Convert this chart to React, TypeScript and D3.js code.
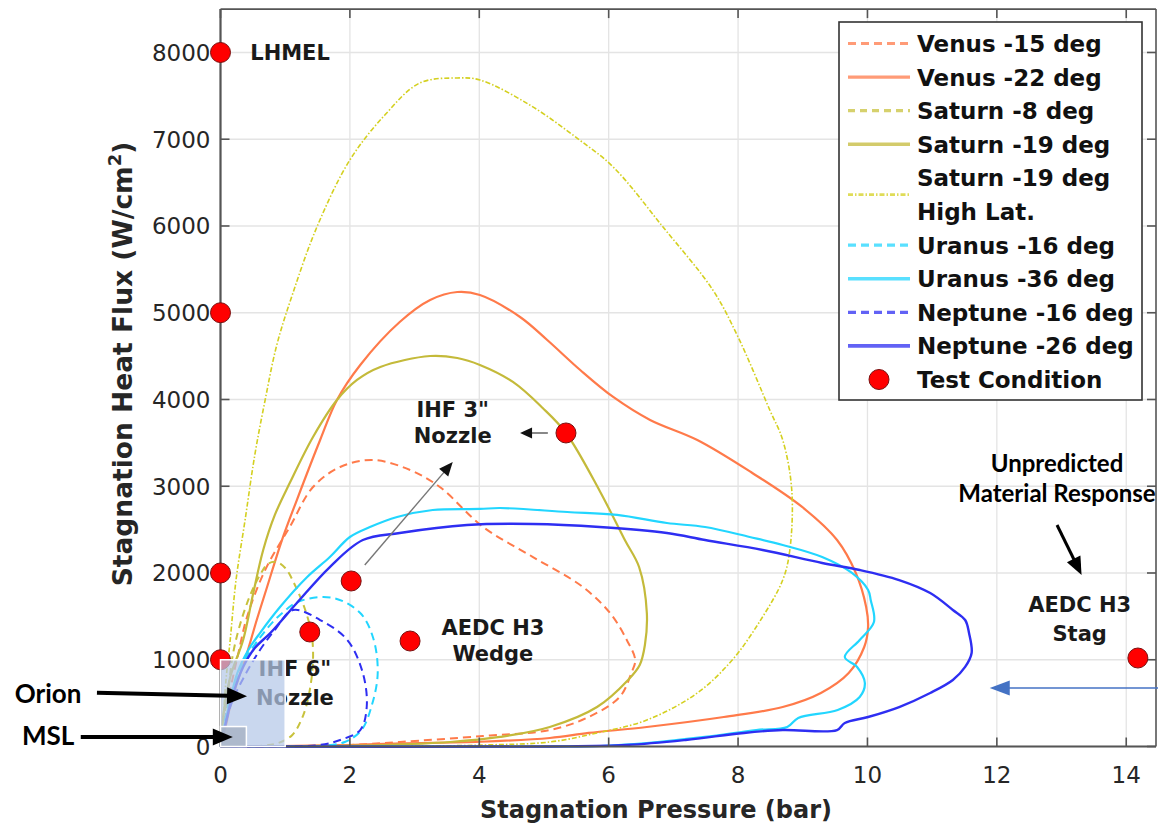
import React from 'react';
import * as d3 from 'd3';

type Pt = [number, number];

const W = 1158;
const H = 826;
const X_MAX = 14.46;
const Y_MAX = 8500;
const xTicks = [0, 2, 4, 6, 8, 10, 12, 14];
const yTicks = [0, 1000, 2000, 3000, 4000, 5000, 6000, 7000, 8000];

const venus15: Pt[] = [[0,0],[0.04,190],[0.15,651],[0.27,1055],[0.41,1493],[0.69,2035],[1.07,2530],[1.43,2991],[1.85,3222],[2.36,3302],[2.93,3187],[3.39,2991],[4.06,2530],[4.83,2184],[5.6,1839],[6.02,1539],[6.28,1228],[6.41,997],[6.35,847],[6.17,571],[5.69,340],[5.09,190],[4.06,121],[2.77,52],[2.0,17],[1.23,6],[0,0]];
const venus22: Pt[] = [[0,0],[0.085,248],[0.147,455],[0.27,767],[0.41,1078],[0.56,1458],[0.72,1839],[0.95,2380],[1.18,2841],[1.54,3533],[1.8,3994],[2.16,4398],[2.77,4893],[3.24,5147],[3.66,5239],[4.01,5205],[4.63,4951],[5.05,4686],[5.56,4340],[6.07,4029],[6.64,3764],[7.37,3533],[8.22,3153],[8.99,2761],[9.53,2380],[9.82,2000],[9.98,1608],[10.01,1378],[9.95,1147],[9.71,847],[9.28,617],[8.69,455],[7.78,340],[6.59,225],[5.69,156],[5.09,98],[4.01,55],[2.77,35],[2.0,17],[0.92,6],[0,0]];
const saturn8: Pt[] = [[0,0],[0.05,305],[0.12,651],[0.19,1055],[0.3,1400],[0.46,1746],[0.61,1977],[0.73,2104],[0.86,2127],[1.0,2058],[1.15,1862],[1.31,1574],[1.41,1285],[1.43,997],[1.38,651],[1.28,363],[1.11,133],[0.89,40],[0.61,6],[0,0]];
const saturn19: Pt[] = [[0,0],[0.04,340],[0.15,801],[0.35,1228],[0.5,1746],[0.66,2265],[0.84,2669],[1.07,3037],[1.43,3568],[1.8,3994],[2.11,4225],[2.47,4375],[3.24,4501],[3.66,4478],[4.01,4398],[4.52,4202],[4.98,3902],[5.34,3614],[5.87,2934],[6.25,2380],[6.47,2069],[6.59,1539],[6.56,1170],[6.48,940],[6.3,767],[5.82,455],[5.09,225],[4.32,110],[3.55,52],[2.47,17],[1.23,6],[0,0]];
const saturn19HL: Pt[] = [[0,0],[0.04,305],[0.085,767],[0.15,1228],[0.24,1919],[0.38,2611],[0.53,3360],[0.69,3994],[0.87,4628],[1.12,5228],[1.49,5988],[2.0,6761],[2.54,7279],[3.08,7648],[3.66,7706],[4.01,7683],[4.78,7395],[5.55,6991],[6.07,6680],[6.84,5988],[7.61,5262],[8.0,4720],[8.49,3879],[8.69,3533],[8.83,2957],[8.8,2265],[8.69,1919],[8.32,1424],[7.91,997],[7.37,617],[6.59,305],[5.82,156],[5.09,52],[4.06,17],[2.77,2],[1.23,0],[0,0]];
const uranus16: Pt[] = [[0,0],[0.07,305],[0.18,651],[0.38,997],[0.64,1285],[0.92,1516],[1.23,1677],[1.74,1712],[2.16,1539],[2.36,1251],[2.43,847],[2.34,478],[2.18,190],[1.92,52],[1.53,6],[0,0]];
const uranus36: Pt[] = [[0,0],[0.04,156],[0.15,536],[0.26,847],[0.43,1112],[0.61,1308],[0.92,1608],[1.34,1954],[1.69,2184],[2.0,2415],[2.31,2530],[2.73,2646],[3.28,2726],[4.01,2738],[4.32,2749],[5.36,2703],[6.13,2669],[6.9,2576],[7.49,2530],[8.18,2415],[8.69,2323],[9.3,2184],[9.76,2000],[10.01,1804],[10.05,1689],[10.1,1435],[9.88,1228],[9.65,1032],[9.84,917],[9.96,732],[9.88,571],[9.54,421],[8.93,329],[8.76,225],[8.28,190],[7.49,110],[6.59,40],[5.87,6],[5.09,0],[0,0]];
const neptune16: Pt[] = [[0,0],[0.07,248],[0.19,536],[0.38,824],[0.61,1112],[0.84,1343],[1.12,1573],[1.54,1458],[1.96,1228],[2.2,847],[2.26,455],[2.16,190],[1.85,75],[1.53,17],[0,0]];
const neptune26: Pt[] = [[0,0],[0.04,133],[0.1,329],[0.19,594],[0.35,917],[0.53,1135],[0.77,1308],[1.18,1654],[1.69,2069],[2.2,2380],[2.77,2461],[3.81,2553],[4.83,2565],[5.86,2530],[6.9,2461],[7.49,2380],[8.38,2265],[9.3,2115],[9.88,2035],[10.49,1919],[10.97,1769],[11.32,1574],[11.51,1458],[11.57,1308],[11.61,1078],[11.51,917],[11.32,767],[10.97,617],[10.49,455],[10.01,340],[9.65,271],[9.53,190],[8.69,190],[8.09,156],[7.19,75],[6.28,17],[5.09,0],[0,0]];

const testX = [0, 0, 0, 0, 5.34, 2.02, 1.38, 2.93, 14.18];
const testY = [8000, 5000, 2000, 1000, 3614, 1908, 1320, 1216, 1020];

const seriesNames = ['Venus -15 deg', 'Venus -22 deg', 'Saturn -8 deg', 'Saturn -19 deg', 'Saturn -19 deg|High Lat.', 'Uranus -16 deg', 'Uranus -36 deg', 'Neptune -16 deg', 'Neptune -26 deg'];
const seriesData = [venus15, venus22, saturn8, saturn19, saturn19HL, uranus16, uranus36, neptune16, neptune26];
const seriesColors = ['#FF7A4A', '#FF7A4A', '#C8C23C', '#C4BA3A', '#D4D020', '#22D6FF', '#22D6FF', '#2E2EF2', '#2E2EF2'];
const seriesDash = ['8,5', '', '7,5', '', '5,2,1.5,2', '8,5', '', '8,5', ''];
const seriesWidth = [2, 2.2, 2, 2.2, 1.6, 2, 2.2, 2, 2.4];

const x = d3.scaleLinear().domain([0, X_MAX]).range([220.5, 1156]);
const y = d3.scaleLinear().domain([0, Y_MAX]).range([746.5, 9.1]);

const MATLAB_FONT = '"DejaVu Sans", sans-serif';
const PPT_FONT = 'Lato, "Open Sans", sans-serif';

function Arrow({ x1, y1, x2, y2, color, width, headLen, headW, lineColor }: any) {
  const dx = x2 - x1, dy = y2 - y1;
  const L = Math.sqrt(dx * dx + dy * dy);
  const ux = dx / L, uy = dy / L;
  const bx = x2 - ux * headLen, by = y2 - uy * headLen;
  const px = -uy * headW / 2, py = ux * headW / 2;
  return (
    <g>
      <line x1={x1} y1={y1} x2={bx + ux * 1} y2={by + uy * 1} stroke={lineColor || color} strokeWidth={width} />
      <polygon points={`${x2},${y2} ${bx + px},${by + py} ${bx - px},${by - py}`} fill={color} />
    </g>
  );
}

export default function App() {
  const line = d3.line<Pt>().x(d => x(d[0])).y(d => y(d[1])).curve(d3.curveCatmullRom.alpha(0.5));
  const x0 = x(0), x1 = x(X_MAX), y0 = y(0), y1 = y(Y_MAX);

  const legX = 839, legY = 22, legW = 303, legH = 378;
  const rowH = 33.6;
  let row = 0;
  const legendItems: any[] = [];
  seriesNames.forEach((n, i) => {
    const parts = n.split('|');
    const cy = legY + 21.5 + rowH * row + (parts.length - 1) * rowH / 2;
    legendItems.push({ i, parts, cy, top: legY + 21.5 + rowH * row });
    row += parts.length;
  });
  const testRowY = legY + 21.5 + rowH * row;

  return (
    <svg width={W} height={H} style={{ position: 'absolute', left: 0, top: 0, background: '#fff' }}>
      <rect x={0} y={0} width={W} height={H} fill="#fff" />
      {xTicks.map(t => (
        <line key={'gx' + t} x1={x(t)} x2={x(t)} y1={y0} y2={y1} stroke="#e4e4e4" strokeWidth={1.3} />
      ))}
      {yTicks.map(t => (
        <line key={'gy' + t} x1={x0} x2={x1} y1={y(t)} y2={y(t)} stroke="#e4e4e4" strokeWidth={1.3} />
      ))}
      {seriesData.map((d, i) => (
        <path key={'s' + i} d={line(d) || ''} fill="none" stroke={seriesColors[i]} strokeWidth={seriesWidth[i]}
          strokeDasharray={seriesDash[i] || undefined} strokeLinejoin="round" />
      ))}
      <line x1={x0} x2={x0} y1={y0} y2={y1} stroke="#555" strokeWidth={2.2} />
      <line x1={x0} x2={x1} y1={y0} y2={y0} stroke="#555" strokeWidth={2.2} />
      <line x1={x0} x2={x1} y1={y1} y2={y1} stroke="#555" strokeWidth={1.6} />
      <line x1={x1} x2={x1} y1={y0} y2={y1} stroke="#555" strokeWidth={1.6} />
      {xTicks.map(t => (
        <g key={'tx' + t}>
          <line x1={x(t)} x2={x(t)} y1={y0} y2={y0 - 9} stroke="#555" strokeWidth={1.6} />
          <line x1={x(t)} x2={x(t)} y1={y1} y2={y1 + 9} stroke="#555" strokeWidth={1.6} />
          <text x={x(t)} y={y0 + 36.5} textAnchor="middle" fontFamily={MATLAB_FONT} fontSize={23} fill="#262626">{t}</text>
        </g>
      ))}
      {yTicks.map(t => (
        <g key={'ty' + t}>
          <line x1={x0} x2={x0 + 9} y1={y(t)} y2={y(t)} stroke="#555" strokeWidth={1.6} />
          <line x1={x1} x2={x1 - 9} y1={y(t)} y2={y(t)} stroke="#555" strokeWidth={1.6} />
          <text x={x0 - 10} y={y(t) + 8.3} textAnchor="end" fontFamily={MATLAB_FONT} fontSize={23} fill="#262626">{t}</text>
        </g>
      ))}
      <text x={656} y={818} textAnchor="middle" fontFamily={MATLAB_FONT} fontWeight="bold" fontSize={24} fill="#262626">Stagnation Pressure (bar)</text>
      <text transform="translate(132,364) rotate(-90)" textAnchor="middle" fontFamily={MATLAB_FONT} fontWeight="bold" fontSize={26.5} fill="#262626">
        Stagnation Heat Flux (W/cm<tspan dy={-11} fontSize={18}>2</tspan><tspan dy={11}>)</tspan>
      </text>
      <g fontFamily={MATLAB_FONT} fontWeight="bold" fontSize={21} fill="#1a1a1a">
        <text x={x(0.46)} y={y(7914)}>LHMEL</text>
        <text x={x(3.59)} y={y(3798)} textAnchor="middle">IHF 3"</text>
        <text x={x(3.59)} y={y(3499)} textAnchor="middle">Nozzle</text>
        <text x={x(4.21)} y={y(1285)} textAnchor="middle">AEDC H3</text>
        <text x={x(4.21)} y={y(986)} textAnchor="middle">Wedge</text>
        <text x={x(1.15)} y={y(813)} textAnchor="middle">IHF 6"</text>
        <text x={x(1.15)} y={y(478)} textAnchor="middle">Nozzle</text>
        <text x={x(13.28)} y={y(1550)} textAnchor="middle">AEDC H3</text>
        <text x={x(13.28)} y={y(1216)} textAnchor="middle">Stag</text>
      </g>
      <Arrow x1={x(5.06)} y1={y(3614)} x2={x(4.63)} y2={y(3614)} color="#111" lineColor="#888" width={2} headLen={12} headW={11} />
      <Arrow x1={x(2.23)} y1={y(2092)} x2={x(3.59)} y2={y(3280)} color="#111" lineColor="#777" width={1.4} headLen={14} headW={12} />
      {testX.map((tx, i) => (
        <circle key={'tc' + i} cx={x(tx)} cy={y(testY[i])} r={10} fill="#FF0000" stroke="#7a1010" strokeWidth={1} />
      ))}
      <rect x={x(0)} y={y(1000)} width={x(1.0) - x(0)} height={y(0) - y(1000)} fill="#b4c7e7" fillOpacity={0.72} stroke="#fff" strokeWidth={1.5} />
      <rect x={x(0)} y={y(230)} width={x(0.4) - x(0)} height={y(0) - y(230)} fill="#aab6c8" fillOpacity={0.9} stroke="#fff" strokeWidth={1.5} />
      <rect x={legX} y={legY} width={legW} height={legH} fill="#fff" stroke="#333" strokeWidth={1.6} />
      {legendItems.map(it => (
        <g key={'lg' + it.i}>
          <line x1={848} x2={910} y1={it.cy} y2={it.cy} stroke={seriesColors[it.i]} strokeWidth={seriesWidth[it.i] + 1.2}
            strokeOpacity={0.75} strokeDasharray={seriesDash[it.i] || undefined} />
          {it.parts.map((p: string, k: number) => (
            <text key={k} x={917} y={it.top + rowH * k + 8.4} fontFamily={MATLAB_FONT} fontWeight="bold" fontSize={23} fill="#111">{p}</text>
          ))}
        </g>
      ))}
      <circle cx={879} cy={testRowY} r={10} fill="#FF0000" stroke="#7a1010" strokeWidth={1} />
      <text x={917} y={testRowY + 8.4} fontFamily={MATLAB_FONT} fontWeight="bold" fontSize={23} fill="#111">Test Condition</text>
      <g fontFamily={PPT_FONT} fontWeight="bold" fill="#000">
        <text x={x(-3.18)} y={y(504)} fontSize={26}>Orion</text>
        <text x={x(-3.07)} y={y(17)} fontSize={26}>MSL</text>
        <text x={x(12.93)} y={y(3164)} fontSize={24} textAnchor="middle">Unpredicted</text>
        <text x={x(12.93)} y={y(2818)} fontSize={24} textAnchor="middle">Material Response</text>
      </g>
      <Arrow x1={x(-1.91)} y1={y(620)} x2={x(0.41)} y2={y(580)} color="#000" width={4} headLen={20} headW={17} />
      <Arrow x1={x(-2.16)} y1={y(110)} x2={x(0.19)} y2={y(110)} color="#000" width={4} headLen={20} headW={17} />
      <Arrow x1={x(12.93)} y1={y(2553)} x2={x(13.31)} y2={y(1977)} color="#000" width={3} headLen={18} headW={15} />
      <Arrow x1={x(14.6)} y1={y(674)} x2={x(11.89)} y2={y(674)} color="#4472C4" width={1.6} headLen={20} headW={15} />
    </svg>
  );
}
